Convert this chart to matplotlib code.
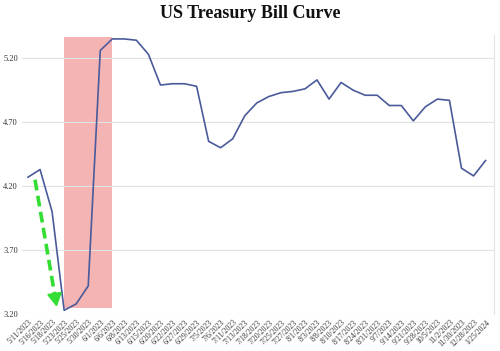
import matplotlib
matplotlib.use("Agg")
import matplotlib.pyplot as plt
from matplotlib.patches import Rectangle

dates = ['5/11/2023', '5/16/2023', '5/18/2023', '5/23/2023', '5/25/2023', '5/30/2023',
         '6/1/2023', '6/6/2023', '6/8/2023', '6/13/2023', '6/15/2023', '6/20/2023',
         '6/22/2023', '6/27/2023', '6/29/2023', '7/5/2023', '7/6/2023', '7/11/2023',
         '7/13/2023', '7/18/2023', '7/20/2023', '7/25/2023', '7/27/2023', '8/1/2023',
         '8/3/2023', '8/8/2023', '8/10/2023', '8/17/2023', '8/24/2023', '8/31/2023',
         '9/7/2023', '9/14/2023', '9/21/2023', '9/28/2023', '10/5/2023', '11/2/2023',
         '11/30/2023', '12/28/2023', '1/25/2024']
yields = [4.27, 4.33, 4.00, 3.23, 3.28, 3.42, 5.26, 5.35, 5.35, 5.34, 5.23, 4.99,
          5.00, 5.00, 4.98, 4.55, 4.50, 4.57, 4.75, 4.85, 4.90, 4.93, 4.94, 4.96,
          5.03, 4.88, 5.01, 4.95, 4.91, 4.91, 4.83, 4.83, 4.71, 4.82, 4.88, 4.87,
          4.34, 4.28, 4.40]
yticks = [3.20, 3.70, 4.20, 4.70, 5.20]

serif = ['Liberation Serif', 'DejaVu Serif']

fig = plt.figure(figsize=(5.0, 3.51), dpi=100)
ax = fig.add_axes([0.044, 0.105, 0.944, 0.795])
x = list(range(len(dates)))

ax.add_patch(Rectangle((3, 3.247), 4, 5.366 - 3.247, facecolor='#f4b4b4',
                       edgecolor='none', zorder=1))
ax.plot(x, yields, color='#4a5a9a', linewidth=1.2, zorder=3)

# green dashed arrow showing the drop
arrow_start = (0.58, 4.25)
arrow_mid = (2.22, 3.35)
arrow_tip = (2.38, 3.257)
ax.plot([arrow_start[0], arrow_mid[0]], [arrow_start[1], arrow_mid[1]],
        color='#33dd33', linewidth=2.6, linestyle=(0, (3, 1.5)), zorder=4)
ax.annotate('', xy=arrow_tip, xytext=arrow_mid,
            arrowprops=dict(arrowstyle='-|>,head_length=0.8,head_width=0.45',
                            color='#33dd33', lw=1.5, shrinkA=0, shrinkB=0),
            zorder=4)

ax.set_xlim(-0.5, 38.7)
ax.set_ylim(3.2, 5.38)
ax.set_yticks(yticks)
ax.set_yticklabels(['%.2f' % v for v in yticks], fontsize=6, family=serif, color='#333333')
ax.set_xticks(x)
ax.set_xticklabels(dates, rotation=45, ha='right', rotation_mode='anchor',
                   fontsize=5.5, family=serif, color='#333333')
ax.tick_params(length=0, pad=3)
ax.grid(axis='y', color='#e3e3e3', linewidth=0.8, zorder=0)
for side in ['top', 'left', 'bottom']:
    ax.spines[side].set_visible(False)
ax.spines['right'].set_color('#e3e3e3')

fig.suptitle('US Treasury Bill Curve', fontsize=13, fontweight='bold',
             family=serif, x=0.5, y=0.985, color='#111111')

fig.savefig('out.png', dpi=100)
